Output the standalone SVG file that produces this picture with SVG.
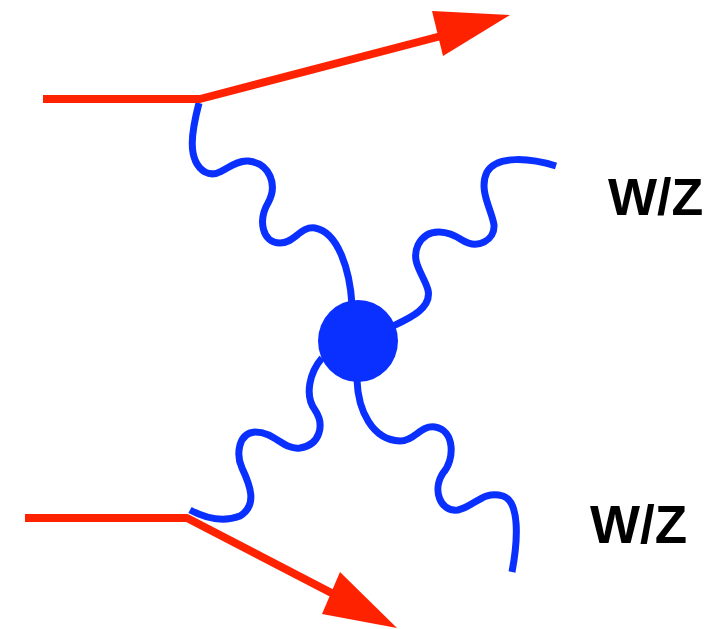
<svg xmlns="http://www.w3.org/2000/svg" width="713" height="629" viewBox="0 0 713 629">
<style>
.fermion{fill:none;stroke:#ff2200;stroke-width:8;stroke-linejoin:round}
.head{fill:#ff2200}
.boson{fill:none;stroke:#0a30ff;stroke-width:7;stroke-linecap:butt}
.blob{fill:#0a30ff}
.label{font-family:"Liberation Sans",Arial,sans-serif;font-weight:bold;fill:#000}
</style>
<rect width="713" height="629" fill="#fff"/>
<g id="connectors">
<path id="boson-top-left" class="boson" d="M199,103 C192,130 186,160 205,172 C220,180 230,160 248,161 C270,163 278,185 268,203 C258,220 262,243 280,243 C295,243 300,226 315,228 C338,232 350,270 352,305"/>
<path id="boson-top-right" class="boson" d="M393,326 C410,318 432,308 428,290 C424,275 410,262 418,245 C428,225 450,232 462,240 C478,250 495,240 494,225 C492,210 478,190 487,172 C497,155 530,158 556,166"/>
<path id="boson-bottom-left" class="boson" d="M322,358 C310,372 304,395 315,410 C325,425 320,445 300,448 C283,450 275,432 255,432 C238,433 236,455 242,468 C250,485 258,505 240,516 C222,523 205,518 190,510"/>
<path id="boson-bottom-right" class="boson" d="M357,380 C358,410 372,440 400,441 C415,441 420,425 435,427 C455,430 455,460 443,473 C432,490 440,512 458,510 C475,506 483,490 503,496 C520,502 518,540 512,572"/>
<path id="fermion-top" class="fermion" d="M43,99 L200,99 L445,35"/>
<polygon class="head" points="432,11 510,15 443,56"/>
<path id="fermion-bottom" class="fermion" d="M25,518 L187,518 L345,600"/>
<polygon class="head" points="340,572 397,628 322,614"/>
</g>
<g id="vertex">
<ellipse class="blob" cx="358" cy="341" rx="40" ry="41"/>
</g>
<g id="label-top">
<text class="label" x="608" y="215" font-size="52">W/Z</text>
</g>
<g id="label-bottom">
<text class="label" x="590" y="543" font-size="53">W/Z</text>
</g>
</svg>
